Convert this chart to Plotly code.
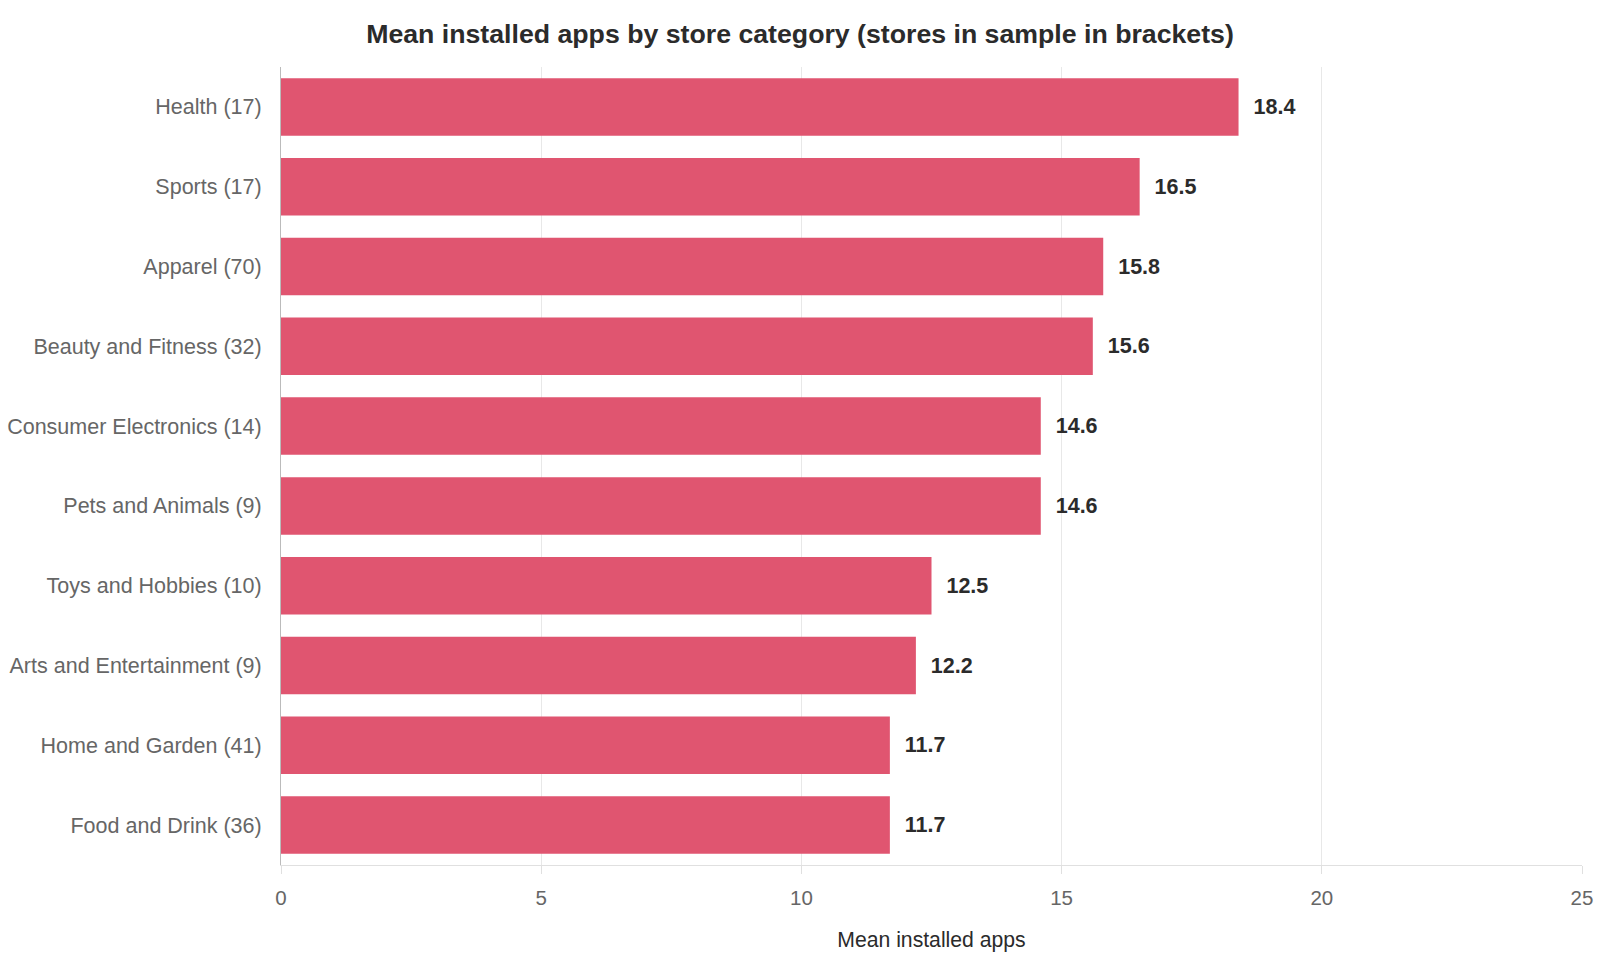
import plotly.graph_objects as go

categories = ["Health (17)", "Sports (17)", "Apparel (70)", "Beauty and Fitness (32)",
              "Consumer Electronics (14)", "Pets and Animals (9)", "Toys and Hobbies (10)",
              "Arts and Entertainment (9)", "Home and Garden (41)", "Food and Drink (36)"]
values = [18.4, 16.5, 15.8, 15.6, 14.6, 14.6, 12.5, 12.2, 11.7, 11.7]
x_ticks = [0, 5, 10, 15, 20, 25]

FONT = "Liberation Sans, Arial, sans-serif"

fig = go.Figure(go.Bar(
    y=categories,
    x=values,
    orientation="h",
    marker=dict(color="#E05570", line=dict(width=0)),
    text=[f"{v:.1f}" for v in values],
    texttemplate="  %{text}",
    textposition="outside",
    cliponaxis=False,
    textfont=dict(family=FONT, size=21.5, color="#2b2b2b", weight="bold"),
    hoverinfo="skip",
))

fig.update_layout(
    width=1600, height=960,
    margin=dict(l=281, r=18, t=67, b=95),
    paper_bgcolor="white", plot_bgcolor="white",
    font=dict(family=FONT),
    bargap=0.28,
    showlegend=False,
    title=dict(
        text="<b>Mean installed apps by store category (stores in sample in brackets)</b>",
        x=0.5, xanchor="center", y=1 - 34 / 960, yanchor="middle",
        font=dict(family=FONT, size=26.7, color="#2b2b2b"),
    ),
)

fig.update_xaxes(
    range=[0, 25], tickvals=x_ticks, automargin=False,
    showgrid=True, gridcolor="#e8e8e8", gridwidth=1,
    showline=True, linecolor="#e0e0e0", linewidth=1,
    ticks="outside", ticklen=8, tickcolor="#e0e0e0",
    tickfont=dict(family=FONT, size=20.5, color="#666666"),
    ticklabelstandoff=6,
    zeroline=False,
    title=dict(text="Mean installed apps", font=dict(family=FONT, size=21.2, color="#2b2b2b"), standoff=24),
)

fig.update_yaxes(
    categoryorder="array", categoryarray=categories, autorange="reversed",
    automargin=False,
    showgrid=False, zeroline=False,
    showline=True, linecolor="#bbbbbb", linewidth=1,
    ticks="", ticklabelstandoff=14,
    tickfont=dict(family=FONT, size=21.5, color="#666666"),
)

fig.write_html("out.html", config={"displayModeBar": False},
               post_script="document.body.style.margin='0';")
